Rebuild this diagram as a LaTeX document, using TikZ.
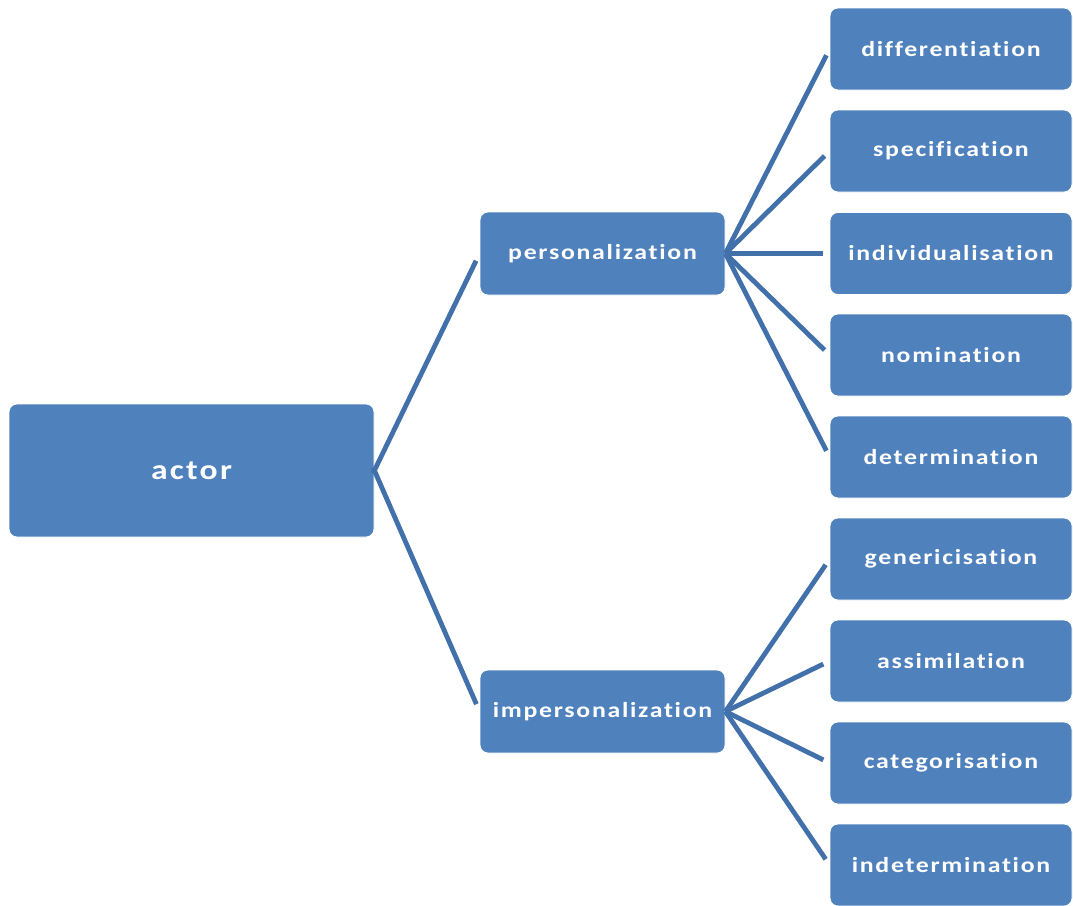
\documentclass[tikz,border=0pt]{standalone}
\usepackage{fontspec}
\newfontfamily\boxfont{Carlito}[FakeStretch=1.2,LetterSpace=8,Ligatures={NoCommon}]
\definecolor{boxblue}{HTML}{4F81BD}
\definecolor{lineblue}{HTML}{4170AA}
\begin{document}
\begin{tikzpicture}[x=1pt,y=-1pt,
  box/.style={draw=white, line width=0.8pt, fill=boxblue, rounded corners=8pt, inner sep=0pt,
    text=white, font=\boxfont\bfseries\fontsize{21.5}{25}\selectfont},
  rootbox/.style={box, minimum width=365pt, minimum height=133pt, font=\boxfont\bfseries\fontsize{28}{32}\selectfont},
  midbox/.style={box, minimum width=245pt, minimum height=83pt},
  leafbox/.style={box, minimum width=242pt, minimum height=82pt},
  link/.style={draw=lineblue, line width=4.8pt, shorten >=7pt}]
\useasboundingbox (0,0) rectangle (1073,905);
\clip (0,0) rectangle (1073,905);
\node[rootbox] (actor) at (191.5,470.5) {actor};
\node[midbox] (pers) at (602.5,253.5) {personalization};
\node[midbox] (imp) at (602.5,711.5) {impersonalization};
\node[leafbox] (l1) at (951,49) {differentiation};
\node[leafbox] (l2) at (951,151) {specification};
\node[leafbox] (l3) at (951,253.5) {individualisation};
\node[leafbox] (l4) at (951,355) {nomination};
\node[leafbox] (l5) at (951,457) {determination};
\node[leafbox] (l6) at (951,559) {genericisation};
\node[leafbox] (l7) at (951,661) {assimilation};
\node[leafbox] (l8) at (951,763) {categorisation};
\node[leafbox] (l9) at (951,865) {indetermination};
\draw[link, shorten <=-3pt, shorten >=8pt] (actor.east) -- (pers.west);
\draw[link, shorten <=-3pt, shorten >=8pt] (actor.east) -- (imp.west);
\foreach \n in {l1,l2,l3,l4,l5} \draw[link] (pers.east) -- (\n.west);
\foreach \n in {l6,l7,l8,l9} \draw[link] (imp.east) -- (\n.west);
\end{tikzpicture}
\end{document}
